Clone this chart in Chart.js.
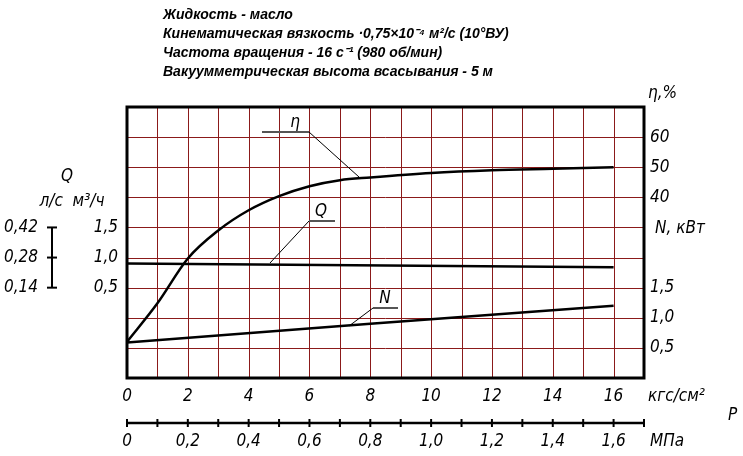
<!DOCTYPE html><html><head><meta charset="utf-8">
<script src="https://cdn.jsdelivr.net/npm/chart.js@4"></script>
<style>html,body{margin:0;background:#fff}#w{width:743px;height:456px}</style></head><body><div id="w"><canvas id="c"></canvas></div>
<script>
const pressure=[0,1,2,3,4,5,6,7,8,10,12,14,16];
const eta=[-8,4.8,19.7,29,35.7,40.4,43.7,45.7,46.6,48.1,49,49.5,50];
const qP=[0,16];const qVal=[0.90,0.84];
const nP=[0,8,16];const nVal=[0.59,0.9,1.2];
const kgsTicks=[0,2,4,6,8,10,12,14,16];
const mpaTicks=['0','0,2','0,4','0,6','0,8','1,0','1,2','1,4','1,6'];
const etaTicks=[60,50,40];const qTicks=['1,5','1,0','0,5'];const nTicks=['1,5','1,0','0,5'];
const qLs=['0,42','0,28','0,14'];
const titles=['Жидкость - масло','Кинематическая вязкость ·0,75×10⁻⁴ м²/с (10°ВУ)','Частота вращения - 16 с⁻¹ (980 об/мин)','Вакуумметрическая высота всасывания - 5 м'];
const F="italic 17px 'Liberation Sans Narrow','DejaVu Sans Condensed',sans-serif";
const ds=(d,ax)=>({data:d,yAxisID:ax,borderColor:'#000',borderWidth:2.5,pointRadius:0,cubicInterpolationMode:'monotone',fill:false});
const plug={id:'p',beforeDatasetsDraw(ch){const c=ch.ctx,x=ch.scales.x,y=ch.scales.g;c.save();
 c.strokeStyle='#8b1a1a';c.lineWidth=1;
 for(let i=1;i<17;i++){const px=Math.round(x.getPixelForValue(i))+.5;c.beginPath();c.moveTo(px,y.top);c.lineTo(px,y.bottom);c.stroke();}
 for(let j=1;j<9;j++){const py=Math.round(y.getPixelForValue(j))+.5;c.beginPath();c.moveTo(x.left,py);c.lineTo(x.right,py);c.stroke();}
 c.restore();},
 afterDatasetsDraw(ch){const c=ch.ctx,x=ch.scales.x,y=ch.scales.g;c.save();
 c.strokeStyle='#000';c.lineWidth=3;c.strokeRect(x.left,y.top,x.right-x.left,y.bottom-y.top);
 c.fillStyle='#000';c.font="italic bold 14px Arial,'Liberation Sans'";c.textBaseline='middle';
 titles.forEach((t,i)=>c.fillText(t,163,15+i*19));
 c.font=F;c.textAlign='center';
 const X=v=>x.getPixelForValue(v),Y=v=>y.getPixelForValue(v);
 kgsTicks.forEach(v=>c.fillText(String(v),X(v),397));
 c.lineWidth=2.5;c.beginPath();c.moveTo(X(0),423);c.lineTo(X(17),423);c.stroke();
 c.lineWidth=2;for(let i=0;i<=17;i++){c.beginPath();c.moveTo(X(i),419);c.lineTo(X(i),427);c.stroke();}
 mpaTicks.forEach((t,i)=>c.fillText(t,X(i*2),442));
 c.textAlign='left';c.fillText('кгс/см²',648,397);c.fillText('МПа',650,442);c.fillText('P',728,416);
 c.fillText('η,%',648,94);c.fillText('N, кВт',655,229);
 etaTicks.forEach((t,i)=>c.fillText(String(t),650,Y(8-i)));
 nTicks.forEach((t,i)=>c.fillText(t,650,Y(3-i)));
 c.textAlign='right';qTicks.forEach((t,i)=>c.fillText(t,118,Y(5-i)));
 qLs.forEach((t,i)=>c.fillText(t,38,Y(5-i)));
 c.textAlign='center';c.fillText('Q',67,177);c.fillText('л/с  м³/ч',72,202);
 c.lineWidth=2;c.beginPath();c.moveTo(52,Y(5));c.lineTo(52,Y(3));c.stroke();
 for(let i=3;i<=5;i++){c.beginPath();c.moveTo(47,Y(i));c.lineTo(57,Y(i));c.stroke();}
 const lead=(lab,lx,ly,ux1,ux2,uy,ex,ey)=>{c.fillStyle='#000';c.fillText(lab,lx,ly);c.lineWidth=2;c.strokeStyle='#555';c.beginPath();c.moveTo(ux1,uy);c.lineTo(ux2,uy);c.stroke();c.strokeStyle='#000';c.lineWidth=1;c.beginPath();c.moveTo(ux2,uy);c.lineTo(ex,ey);c.stroke();};
 lead('η',295,123,262,309,132,359,177);
 c.fillText('Q',321,212);c.lineWidth=2;c.strokeStyle='#555';c.beginPath();c.moveTo(309,221);c.lineTo(335,221);c.stroke();c.strokeStyle='#000';c.lineWidth=1;c.beginPath();c.moveTo(309,221);c.lineTo(270,263);c.stroke();
 c.fillText('N',385,299);c.lineWidth=2;c.strokeStyle='#555';c.beginPath();c.moveTo(373,308);c.lineTo(398,308);c.stroke();c.strokeStyle='#000';c.lineWidth=1;c.beginPath();c.moveTo(373,308);c.lineTo(349,326);c.stroke();
 c.restore();}};
new Chart(document.getElementById('c'),{type:'line',
 data:{datasets:[ds(pressure.map((p,i)=>({x:p,y:eta[i]})),'yEta'),ds(qP.map((p,i)=>({x:p,y:qVal[i]})),'yQ'),ds(nP.map((p,i)=>({x:p,y:nVal[i]})),'yN')]},
 options:{responsive:true,maintainAspectRatio:false,animation:false,events:[],
 layout:{padding:{left:127,right:99,top:107,bottom:78}},
 plugins:{legend:{display:false},tooltip:{enabled:false}},
 scales:{x:{type:'linear',axis:'x',min:0,max:17,display:false},
 g:{type:'linear',axis:'y',min:0,max:9,display:false},yEta:{type:'linear',axis:'y',min:-20,max:70,display:false},yQ:{type:'linear',axis:'y',min:-1,max:3.5,display:false},yN:{type:'linear',axis:'y',min:0,max:4.5,display:false}}},
 plugins:[plug]});
</script></body></html>
